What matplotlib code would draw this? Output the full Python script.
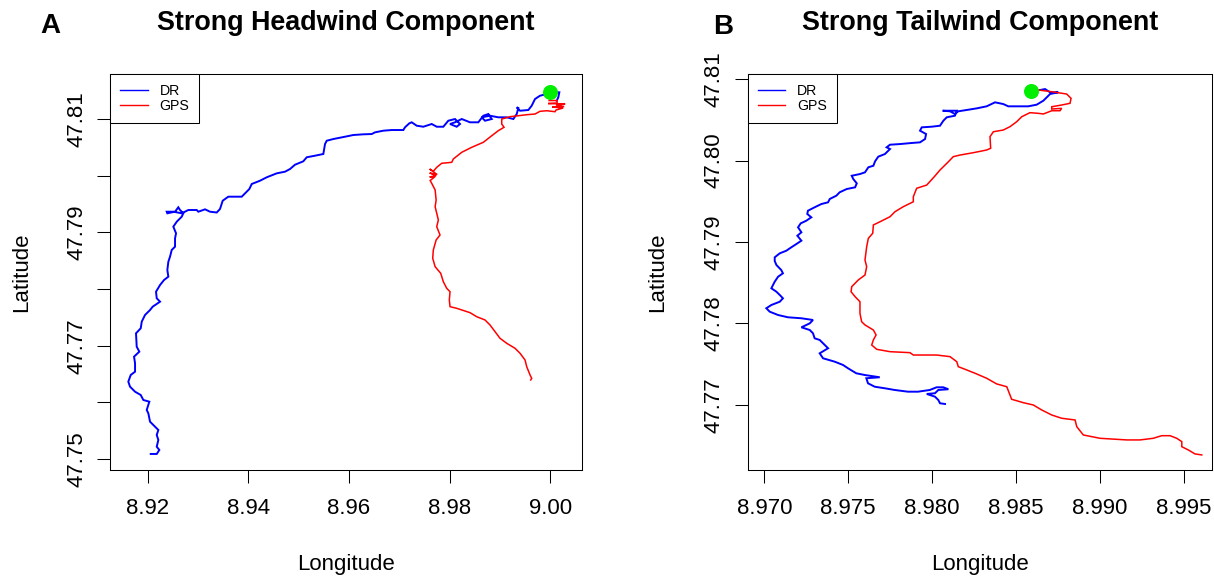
import matplotlib
matplotlib.use("Agg")
import matplotlib.pyplot as plt
from matplotlib.lines import Line2D

plt.rcParams['font.family'] = ['Liberation Sans', 'DejaVu Sans']

titles = ["Strong Headwind Component", "Strong Tailwind Component"]
panel_tags = ["A", "B"]
legend_labels = ["DR", "GPS"]

# ---------------- Panel A: strong headwind ----------------
a_dr_lon = [8.92060, 8.92179, 8.92231, 8.92179, 8.92211, 8.92179, 8.92211, 8.92145, 8.92046, 8.92012,
            8.91980, 8.92032, 8.91913, 8.91861, 8.91748, 8.91648, 8.91614, 8.91662, 8.91748, 8.91748,
            8.91728, 8.91833, 8.91781, 8.91767, 8.91861, 8.91881, 8.91946, 8.92046, 8.92099, 8.92245,
            8.92179, 8.92165, 8.92245, 8.92324, 8.92410, 8.92390, 8.92410, 8.92443, 8.92477, 8.92543,
            8.92543, 8.92563, 8.92509, 8.92577, 8.92676, 8.92708, 8.92642, 8.92608, 8.92543, 8.92390,
            8.92378, 8.92509, 8.92676, 8.92807, 8.92974, 8.93006, 8.93139, 8.93239, 8.93372, 8.93437,
            8.93491, 8.93602, 8.93869, 8.94020, 8.94068, 8.94233, 8.94366, 8.94565, 8.94730, 8.94829,
            8.94928, 8.95093, 8.95161, 8.95326, 8.95491, 8.95525, 8.95559, 8.95690, 8.95923, 8.96088,
            8.96286, 8.96453, 8.96519, 8.96684, 8.96851, 8.97082, 8.97115, 8.97201, 8.97248, 8.97348,
            8.97479, 8.97646, 8.97746, 8.97877, 8.97976, 8.98109, 8.98209, 8.98143, 8.98010, 8.98109,
            8.98243, 8.98408, 8.98573, 8.98672, 8.98772, 8.98839, 8.98706, 8.98640, 8.98805, 8.98970,
            8.99137, 8.99269, 8.99336, 8.99368, 8.99336, 8.99402, 8.99567, 8.99634, 8.99700, 8.99799,
            8.99933, 9.00098, 9.00183, 9.00163, 9.00131]
a_dr_lat = [47.75092, 47.75092, 47.75162, 47.75220, 47.75339, 47.75427, 47.75515, 47.75573, 47.75661, 47.75809,
            47.75868, 47.76014, 47.76044, 47.76132, 47.76190, 47.76279, 47.76367, 47.76485, 47.76543, 47.76691,
            47.76808, 47.76896, 47.76984, 47.77220, 47.77309, 47.77425, 47.77543, 47.77631, 47.77690, 47.77778,
            47.77838, 47.77954, 47.78072, 47.78160, 47.78219, 47.78337, 47.78483, 47.78571, 47.78690, 47.78748,
            47.78896, 47.78984, 47.79101, 47.79189, 47.79277, 47.79337, 47.79395, 47.79443, 47.79365, 47.79337,
            47.79365, 47.79365, 47.79337, 47.79395, 47.79395, 47.79365, 47.79407, 47.79365, 47.79351, 47.79413,
            47.79559, 47.79630, 47.79630, 47.79765, 47.79854, 47.79912, 47.79972, 47.80042, 47.80071, 47.80118,
            47.80194, 47.80254, 47.80325, 47.80353, 47.80383, 47.80559, 47.80617, 47.80647, 47.80688, 47.80718,
            47.80730, 47.80735, 47.80765, 47.80794, 47.80806, 47.80806, 47.80854, 47.80924, 47.80942, 47.80882,
            47.80864, 47.80912, 47.80864, 47.80864, 47.80970, 47.81000, 47.80912, 47.80864, 47.80912, 47.80942,
            47.81000, 47.80942, 47.80942, 47.81058, 47.81088, 47.81000, 47.80970, 47.81030, 47.81058, 47.81030,
            47.81030, 47.81000, 47.81088, 47.81194, 47.81206, 47.81146, 47.81159, 47.81235, 47.81353, 47.81411,
            47.81441, 47.81471, 47.81471, 47.81383, 47.81323]

a_gps_lon = [8.99980, 9.00139, 9.00139, 8.99960, 9.00299, 9.00118, 9.00279, 9.00040, 9.00259, 9.00118,
             9.00098, 8.99933, 8.99799, 8.99700, 8.99535, 8.99368, 8.99203, 8.99038, 8.99038, 8.99084,
             8.98970, 8.98839, 8.98672, 8.98441, 8.98243, 8.98076, 8.98044, 8.97845, 8.97746, 8.97678,
             8.97605, 8.97754, 8.97605, 8.97734, 8.97605, 8.97714, 8.97615, 8.97646, 8.97714, 8.97734,
             8.97714, 8.97746, 8.97778, 8.97746, 8.97811, 8.97734, 8.97678, 8.97666, 8.97714, 8.97825,
             8.97877, 8.97944, 8.98010, 8.97996, 8.98010, 8.98143, 8.98408, 8.98541, 8.98706, 8.98805,
             8.98905, 8.99004, 8.99137, 8.99302, 8.99402, 8.99501, 8.99535, 8.99601, 8.99634, 8.99614]
a_gps_lat = [47.81326, 47.81326, 47.81282, 47.81273, 47.81265, 47.81247, 47.81220, 47.81212, 47.81194, 47.81159,
             47.81129, 47.81146, 47.81136, 47.81088, 47.81076, 47.81058, 47.81041, 47.81000, 47.80912, 47.80854,
             47.80794, 47.80705, 47.80589, 47.80501, 47.80413, 47.80295, 47.80236, 47.80219, 47.80148, 47.80078,
             47.80118, 47.80021, 47.80048, 47.80004, 47.79977, 47.79986, 47.79915, 47.79866, 47.79748, 47.79571,
             47.79453, 47.79337, 47.79219, 47.79101, 47.78954, 47.78866, 47.78690, 47.78543, 47.78395, 47.78279,
             47.78130, 47.78014, 47.77954, 47.77808, 47.77690, 47.77661, 47.77584, 47.77513, 47.77455, 47.77367,
             47.77249, 47.77132, 47.77044, 47.76956, 47.76868, 47.76750, 47.76631, 47.76485, 47.76427, 47.76397]

# ---------------- Panel B: strong tailwind ----------------
b_dr_lon = [8.98588, 8.98643, 8.98673, 8.98703, 8.98752, 8.98703, 8.98663, 8.98623, 8.98573, 8.98454,
            8.98424, 8.98375, 8.98325, 8.98266, 8.98206, 8.98156, 8.98136, 8.98107, 8.98063, 8.98147,
            8.98136, 8.98087, 8.98067, 8.98047, 8.97998, 8.97938, 8.97928, 8.97964, 8.97958, 8.97928,
            8.97878, 8.97809, 8.97749, 8.97729, 8.97749, 8.97719, 8.97679, 8.97660, 8.97650, 8.97620,
            8.97600, 8.97570, 8.97521, 8.97530, 8.97551, 8.97541, 8.97491, 8.97449, 8.97429, 8.97390,
            8.97380, 8.97340, 8.97300, 8.97260, 8.97256, 8.97280, 8.97250, 8.97217, 8.97201, 8.97221,
            8.97197, 8.97221, 8.97191, 8.97161, 8.97131, 8.97092, 8.97062, 8.97062, 8.97072, 8.97101,
            8.97111, 8.97082, 8.97062, 8.97042, 8.97072, 8.97092, 8.97111, 8.97092, 8.97042, 8.97012,
            8.97032, 8.97082, 8.97141, 8.97221, 8.97290, 8.97271, 8.97221, 8.97271, 8.97290, 8.97300,
            8.97330, 8.97380, 8.97330, 8.97350, 8.97420, 8.97469, 8.97499, 8.97548, 8.97598, 8.97688,
            8.97608, 8.97618, 8.97658, 8.97718, 8.97777, 8.97856, 8.97916, 8.97986, 8.98027, 8.98067,
            8.98097, 8.98037, 8.98017, 8.97968, 8.98017, 8.98037, 8.98047, 8.98077]
b_dr_lat = [47.80856, 47.80865, 47.80877, 47.80837, 47.80837, 47.80816, 47.80734, 47.80685, 47.80665, 47.80665,
            47.80693, 47.80714, 47.80665, 47.80640, 47.80620, 47.80604, 47.80571, 47.80604, 47.80611, 47.80611,
            47.80550, 47.80530, 47.80488, 47.80427, 47.80415, 47.80407, 47.80366, 47.80325, 47.80264, 47.80223,
            47.80215, 47.80202, 47.80194, 47.80162, 47.80141, 47.80080, 47.80047, 47.79990, 47.79936, 47.79917,
            47.79855, 47.79834, 47.79813, 47.79773, 47.79720, 47.79671, 47.79650, 47.79610, 47.79568, 47.79528,
            47.79487, 47.79466, 47.79426, 47.79384, 47.79344, 47.79303, 47.79261, 47.79229, 47.79180, 47.79119,
            47.79077, 47.79016, 47.78975, 47.78935, 47.78893, 47.78861, 47.78812, 47.78767, 47.78718, 47.78656,
            47.78616, 47.78574, 47.78513, 47.78432, 47.78390, 47.78350, 47.78309, 47.78267, 47.78227, 47.78187,
            47.78145, 47.78104, 47.78076, 47.78064, 47.78043, 47.78002, 47.77953, 47.77920, 47.77880, 47.77818,
            47.77798, 47.77696, 47.77634, 47.77573, 47.77531, 47.77491, 47.77450, 47.77389, 47.77368, 47.77340,
            47.77328, 47.77266, 47.77224, 47.77205, 47.77184, 47.77163, 47.77163, 47.77184, 47.77217, 47.77217,
            47.77193, 47.77184, 47.77144, 47.77135, 47.77102, 47.77061, 47.77021, 47.77012]

b_gps_lon = [8.98588, 8.98633, 8.98713, 8.98802, 8.98828, 8.98822, 8.98772, 8.98713, 8.98713, 8.98772,
             8.98762, 8.98713, 8.98663, 8.98633, 8.98583, 8.98534, 8.98504, 8.98464, 8.98424, 8.98365,
             8.98345, 8.98349, 8.98325, 8.98246, 8.98166, 8.98126, 8.98097, 8.98047, 8.98013, 8.97968,
             8.97908, 8.97888, 8.97888, 8.97828, 8.97779, 8.97749, 8.97690, 8.97650, 8.97646, 8.97620,
             8.97610, 8.97600, 8.97610, 8.97600, 8.97560, 8.97521, 8.97517, 8.97541, 8.97570, 8.97570,
             8.97580, 8.97600, 8.97650, 8.97666, 8.97650, 8.97640, 8.97670, 8.97749, 8.97868, 8.97888,
             8.98027, 8.98107, 8.98147, 8.98156, 8.98196, 8.98256, 8.98325, 8.98385, 8.98445, 8.98460,
             8.98474, 8.98544, 8.98603, 8.98653, 8.98713, 8.98772, 8.98852, 8.98862, 8.98901, 8.99001,
             8.99160, 8.99239, 8.99318, 8.99368, 8.99418, 8.99458, 8.99488, 8.99488, 8.99527, 8.99567,
             8.99607]
b_gps_lat = [47.80856, 47.80865, 47.80844, 47.80816, 47.80763, 47.80702, 47.80681, 47.80660, 47.80632, 47.80640,
             47.80611, 47.80611, 47.80571, 47.80579, 47.80587, 47.80537, 47.80476, 47.80415, 47.80374, 47.80353,
             47.80292, 47.80150, 47.80129, 47.80096, 47.80067, 47.80047, 47.79985, 47.79883, 47.79801, 47.79699,
             47.79659, 47.79556, 47.79494, 47.79433, 47.79372, 47.79310, 47.79249, 47.79209, 47.79107, 47.79045,
             47.78942, 47.78779, 47.78697, 47.78595, 47.78534, 47.78452, 47.78390, 47.78329, 47.78267, 47.78125,
             47.78022, 47.77982, 47.77920, 47.77859, 47.77798, 47.77736, 47.77683, 47.77654, 47.77642, 47.77613,
             47.77613, 47.77593, 47.77531, 47.77470, 47.77438, 47.77389, 47.77328, 47.77258, 47.77224, 47.77144,
             47.77070, 47.77028, 47.77000, 47.76939, 47.76877, 47.76837, 47.76816, 47.76734, 47.76632, 47.76591,
             47.76571, 47.76571, 47.76591, 47.76623, 47.76623, 47.76591, 47.76550, 47.76488, 47.76448, 47.76399,
             47.76387]

start_lon = [9.00000, 8.98588]
start_lat = [47.81471, 47.80856]

a_xticks = [8.92, 8.94, 8.96, 8.98, 9.00]
a_xticklabels = ["8.92", "8.94", "8.96", "8.98", "9.00"]
a_yticks = [47.75, 47.76, 47.77, 47.78, 47.79, 47.80, 47.81]
a_yticklabels = ["47.75", "", "47.77", "", "47.79", "", "47.81"]
b_xticks = [8.970, 8.975, 8.980, 8.985, 8.990, 8.995]
b_xticklabels = ["8.970", "8.975", "8.980", "8.985", "8.990", "8.995"]
b_yticks = [47.77, 47.78, 47.79, 47.80, 47.81]
b_yticklabels = ["47.77", "47.78", "47.79", "47.80", "47.81"]

DR_COLOR = "#0000ff"
GPS_COLOR = "#ff0000"
START_COLOR = "#00ee00"

fig = plt.figure(figsize=(12.14, 5.81), dpi=100)
axA = fig.add_axes([0.09061, 0.19105, 0.38880, 0.68158])
axB = fig.add_axes([0.61590, 0.19105, 0.38245, 0.68107])


def draw(ax, dr_lon, dr_lat, gps_lon, gps_lat, s_lon, s_lat, xlim, ylim,
         xticks, xticklabels, yticks, yticklabels, title, tag, tag_x, ylab_x):
    ax.plot(dr_lon, dr_lat, color=DR_COLOR, lw=1.4, solid_joinstyle='miter')
    ax.plot(gps_lon, gps_lat, color=GPS_COLOR, lw=1.1, solid_joinstyle='miter')
    ax.plot([s_lon], [s_lat], 'o', color=START_COLOR, markersize=10.8, markeredgewidth=0)
    ax.set_xlim(*xlim)
    ax.set_ylim(*ylim)
    ax.set_xticks(xticks)
    ax.set_xticklabels(xticklabels)
    ax.set_yticks(yticks)
    ax.set_yticklabels(yticklabels, rotation=90, va='center')
    ax.tick_params(direction='out', length=9.4, width=0.75, labelsize=16, color='black')
    ax.tick_params(axis='x', pad=10.5)
    ax.tick_params(axis='y', pad=7)
    for s in ax.spines.values():
        s.set_linewidth(0.75)
        s.set_color('black')
    ax.text(0.5, 1.111, title, transform=ax.transAxes, ha='center', va='baseline',
            fontsize=19.4, fontweight='bold')
    ax.text(tag_x, 1.103, tag, transform=ax.transAxes, ha='center', va='baseline',
            fontsize=20, fontweight='bold')
    ax.text(0.5, -0.2525, "Longitude", transform=ax.transAxes, ha='center', va='baseline',
            fontsize=16)
    ax.text(ylab_x, 0.5, "Latitude", transform=ax.transAxes, ha='center', va='center',
            rotation=90, fontsize=16)
    handles = [Line2D([0], [0], color=DR_COLOR, lw=1.0),
               Line2D([0], [0], color=GPS_COLOR, lw=1.0)]
    leg = ax.legend(handles, legend_labels, loc='upper left', fontsize=10.2, frameon=True,
                    fancybox=False, edgecolor='black', framealpha=1, borderpad=0.7,
                    labelspacing=0.05, handlelength=1.95, handletextpad=0.85, borderaxespad=0)
    leg.get_frame().set_linewidth(0.75)


draw(axA, a_dr_lon, a_dr_lat, a_gps_lon, a_gps_lat, start_lon[0], start_lat[0],
     (8.91250, 9.00634), (47.74809, 47.81794), a_xticks, a_xticklabels, a_yticks, a_yticklabels,
     titles[0], panel_tags[0], -0.1256, -0.1864)
draw(axB, b_dr_lon, b_dr_lat, b_gps_lon, b_gps_lat, start_lon[1], start_lat[1],
     (8.96901, 8.99668), (47.76202, 47.81058), b_xticks, b_xticklabels, b_yticks, b_yticklabels,
     titles[1], panel_tags[1], -0.0521, -0.1932)

fig.savefig("out.png", dpi=100)
